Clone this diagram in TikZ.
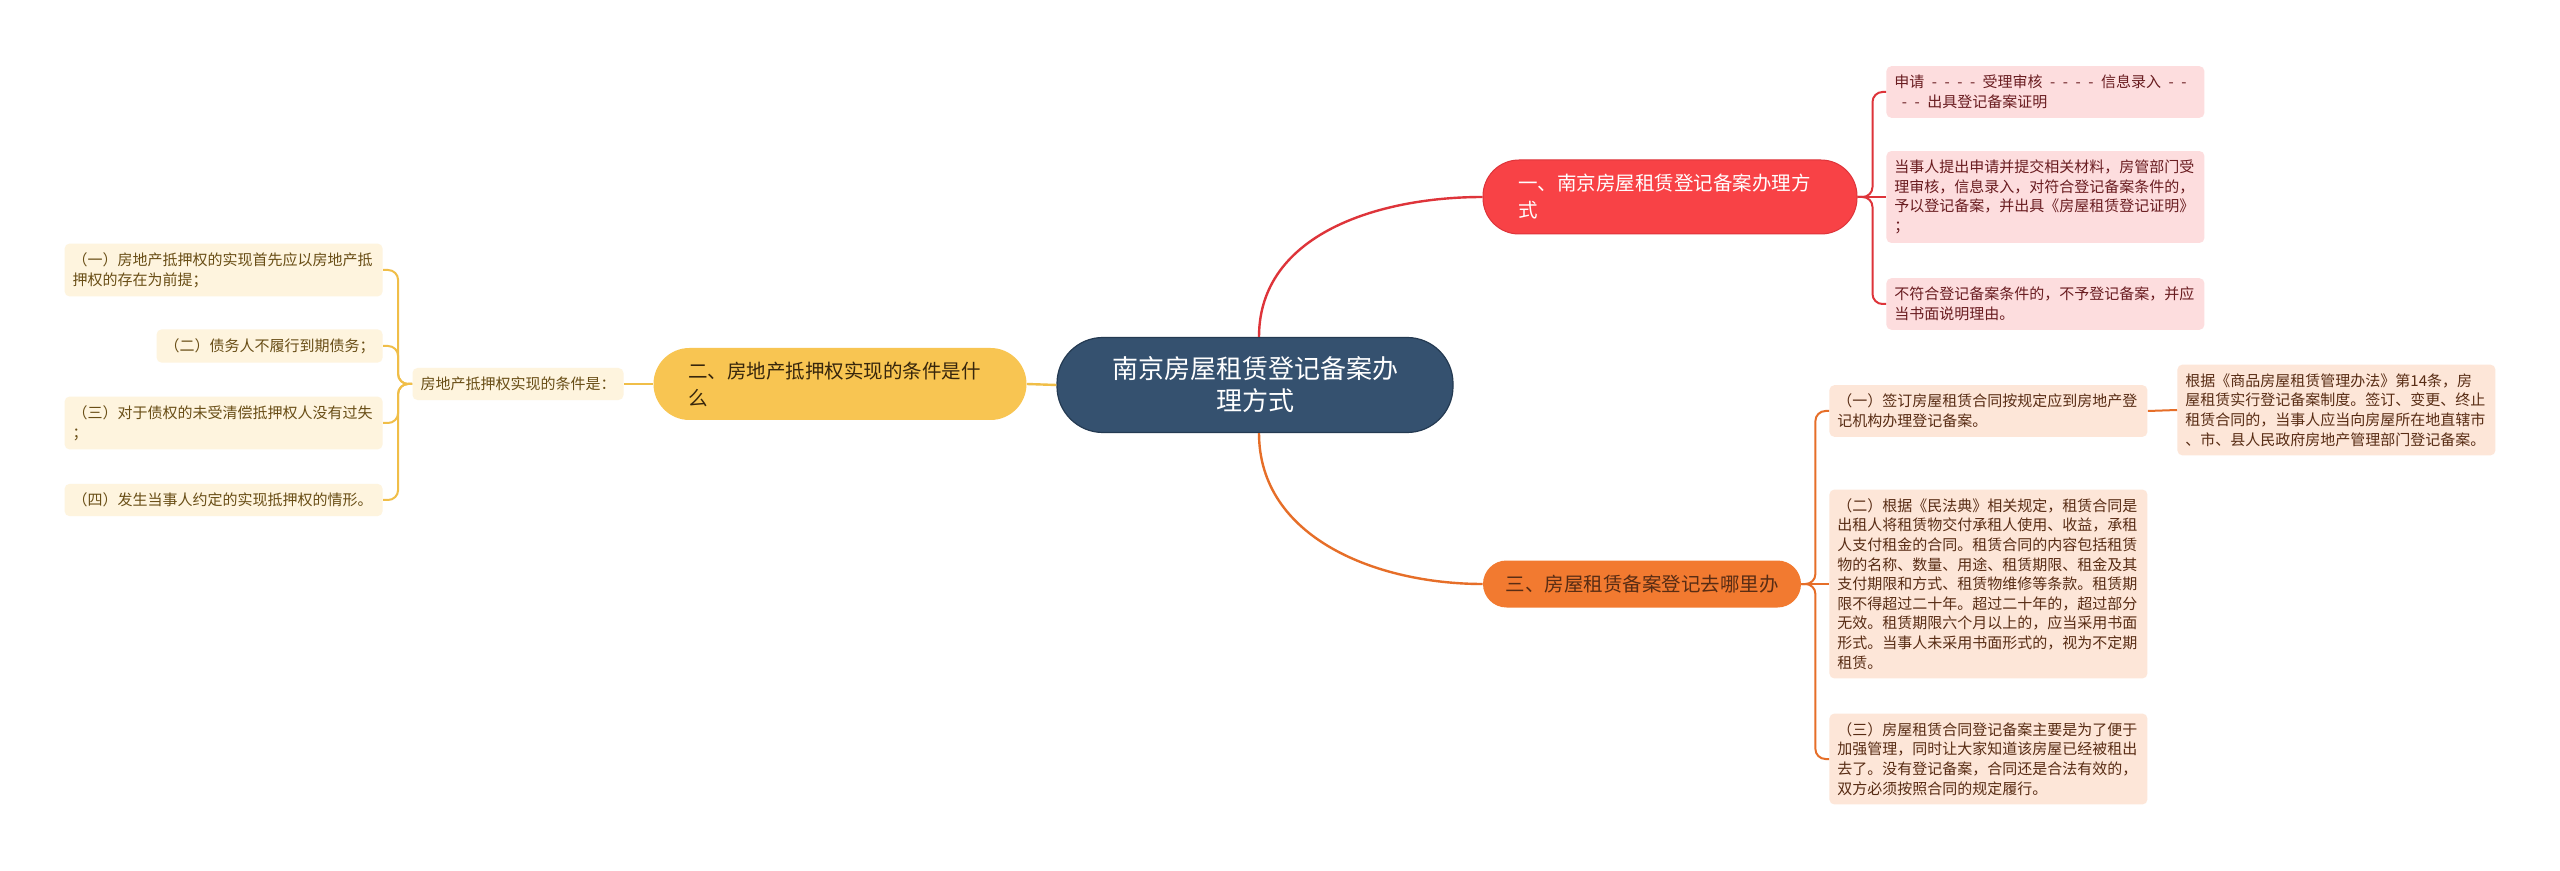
\documentclass[tikz,border=0pt]{standalone}
\usepackage{fontspec}
\setmainfont{Noto Sans CJK SC}
\definecolor{rootblue}{RGB}{53, 81, 111}
\definecolor{rootedge}{RGB}{36, 58, 82}
\definecolor{redmain}{RGB}{248, 66, 70}
\definecolor{redline}{RGB}{222, 52, 58}
\definecolor{redleaf}{RGB}{253, 221, 222}
\definecolor{redtext}{RGB}{105, 28, 32}
\definecolor{yelmain}{RGB}{248, 197, 82}
\definecolor{yelline}{RGB}{240, 190, 72}
\definecolor{yelleaf}{RGB}{254, 244, 222}
\definecolor{yeltext}{RGB}{105, 78, 22}
\definecolor{yeldark}{RGB}{55, 38, 12}
\definecolor{ormain}{RGB}{242, 122, 48}
\definecolor{orline}{RGB}{230, 110, 40}
\definecolor{orleaf}{RGB}{253, 230, 216}
\definecolor{ortext}{RGB}{88, 44, 20}
\usetikzlibrary{positioning}

\begin{document}
\begin{tikzpicture}[x=0.5pt, y=-0.5pt,
  rootbox/.style={fill=rootblue, draw=rootedge, line width=0.6pt, text=white, rounded corners=23pt,
    minimum width=198pt, minimum height=47.5pt, align=center, font=\fontsize{13}{16}\selectfont},
  branch/.style={rounded corners=#1, inner sep=0pt, font=\fontsize{9.75}{13.5}\selectfont},
  leaf/.style={rounded corners=2.5pt, inner xsep=4pt, inner ysep=4.5pt, align=left,
    font=\fontsize{7.5}{9.8}\selectfont},
  wide/.style={text width=151pt},
  link/.style={line width=1pt, rounded corners=5pt},
  curve/.style={line width=1.2pt}
]
  \fill[white] (0,0) rectangle (2560,871);
  \useasboundingbox (0,0) rectangle (2560,871);

  % Centre
  \node[rootbox] (root) at (1255,385) {南京房屋租赁登记备案办\\理方式};

  % Branches
  \node[branch=18pt, fill=redmain, draw=redline, line width=0.5pt, text=white, minimum width=187pt,
    minimum height=37pt, text width=152pt, align=left] (br1) at (1670,197) {一、南京房屋租赁登记备案办理方\\式};
  \node[branch=18pt, fill=yelmain, text=yeldark, minimum width=186.5pt, minimum height=36pt,
    text width=152pt, align=left] (br2) at (840,384) {二、房地产抵押权实现的条件是什\\么};
  \node[branch=11.75pt, fill=ormain, text=ortext, minimum width=159pt, minimum height=23.5pt]
    (br3) at (1642,584) {三、房屋租赁备案登记去哪里办};

  \draw[curve, redline] ([xshift=2pt]root.north) to[out=90, in=180] (br1.west);
  \draw[curve, orline] ([xshift=2pt]root.south) to[out=-90, in=180] (br3.west);
  \draw[curve, yelline] (root.west) -- (br2.east);

  % Red leaves
  \node[leaf, wide, fill=redleaf, text=redtext, anchor=west] (ra) at (1886,92)
    {申请\enspace{}-\enspace{}-\enspace{}-\enspace{}-\enspace{}受理审核\enspace{}-\enspace{}-\enspace{}-\enspace{}-\enspace{}信息录入\enspace{}-\enspace{}-\\\enspace{}-\enspace{}-\enspace{}出具登记备案证明};
  \node[leaf, wide, fill=redleaf, text=redtext, anchor=west] (rb) at (1886,197)
    {当事人提出申请并提交相关材料，房管部门受\\理审核，信息录入，对符合登记备案条件的，\\予以登记备案，并出具《房屋租赁登记证明》\\；};
  \node[leaf, wide, fill=redleaf, text=redtext, anchor=west] (rc) at (1886,304)
    {不符合登记备案条件的，不予登记备案，并应\\当书面说明理由。};
  \foreach \n in {ra, rc}
    \draw[link, redline] (br1.east) -- ++(15,0) |- (\n.west);
  \draw[link, redline] (br1.east) -- (rb.west);

  % Yellow side
  \node[leaf, fill=yelleaf, text=yeltext] (ylab) at (518,384) {房地产抵押权实现的条件是：};
  \draw[link, yelline] (br2.west) -- (ylab.east);
  \node[leaf, wide, fill=yelleaf, text=yeltext, anchor=east] (ya) at (383,270)
    {（一）房地产抵押权的实现首先应以房地产抵\\押权的存在为前提；};
  \node[leaf, fill=yelleaf, text=yeltext, anchor=east] (yb) at (383,346)
    {（二）债务人不履行到期债务；};
  \node[leaf, wide, fill=yelleaf, text=yeltext, anchor=east] (yc) at (383,423)
    {（三）对于债权的未受清偿抵押权人没有过失\\；};
  \node[leaf, wide, fill=yelleaf, text=yeltext, anchor=east] (yd) at (383,500)
    {（四）发生当事人约定的实现抵押权的情形。};
  \foreach \n in {ya, yb, yc, yd}
    \draw[link, yelline] (ylab.west) -- ++(-14,0) |- (\n.east);

  % Orange leaves
  \node[leaf, wide, fill=orleaf, text=ortext, anchor=west] (oa) at (1829,411)
    {（一）签订房屋租赁合同按规定应到房地产登\\记机构办理登记备案。};
  \node[leaf, wide, fill=orleaf, text=ortext, anchor=west] (oaa) at (2177,410)
    {根据《商品房屋租赁管理办法》第14条，房\\屋租赁实行登记备案制度。签订、变更、终止\\租赁合同的，当事人应当向房屋所在地直辖市\\、市、县人民政府房地产管理部门登记备案。};
  \node[leaf, wide, fill=orleaf, text=ortext, anchor=west] (ob) at (1829,584)
    {（二）根据《民法典》相关规定，租赁合同是\\出租人将租赁物交付承租人使用、收益，承租\\人支付租金的合同。租赁合同的内容包括租赁\\物的名称、数量、用途、租赁期限、租金及其\\支付期限和方式、租赁物维修等条款。租赁期\\限不得超过二十年。超过二十年的，超过部分\\无效。租赁期限六个月以上的，应当采用书面\\形式。当事人未采用书面形式的，视为不定期\\租赁。};
  \node[leaf, wide, fill=orleaf, text=ortext, anchor=west] (oc) at (1829,759)
    {（三）房屋租赁合同登记备案主要是为了便于\\加强管理，同时让大家知道该房屋已经被租出\\去了。没有登记备案，合同还是合法有效的，\\双方必须按照合同的规定履行。};
  \foreach \n in {oa, oc}
    \draw[link, orline] (br3.east) -- ++(14,0) |- (\n.west);
  \draw[link, orline] (br3.east) -- (ob.west);
  \draw[link, orline] (oa.east) -- (oaa.west);
\end{tikzpicture}
\end{document}
